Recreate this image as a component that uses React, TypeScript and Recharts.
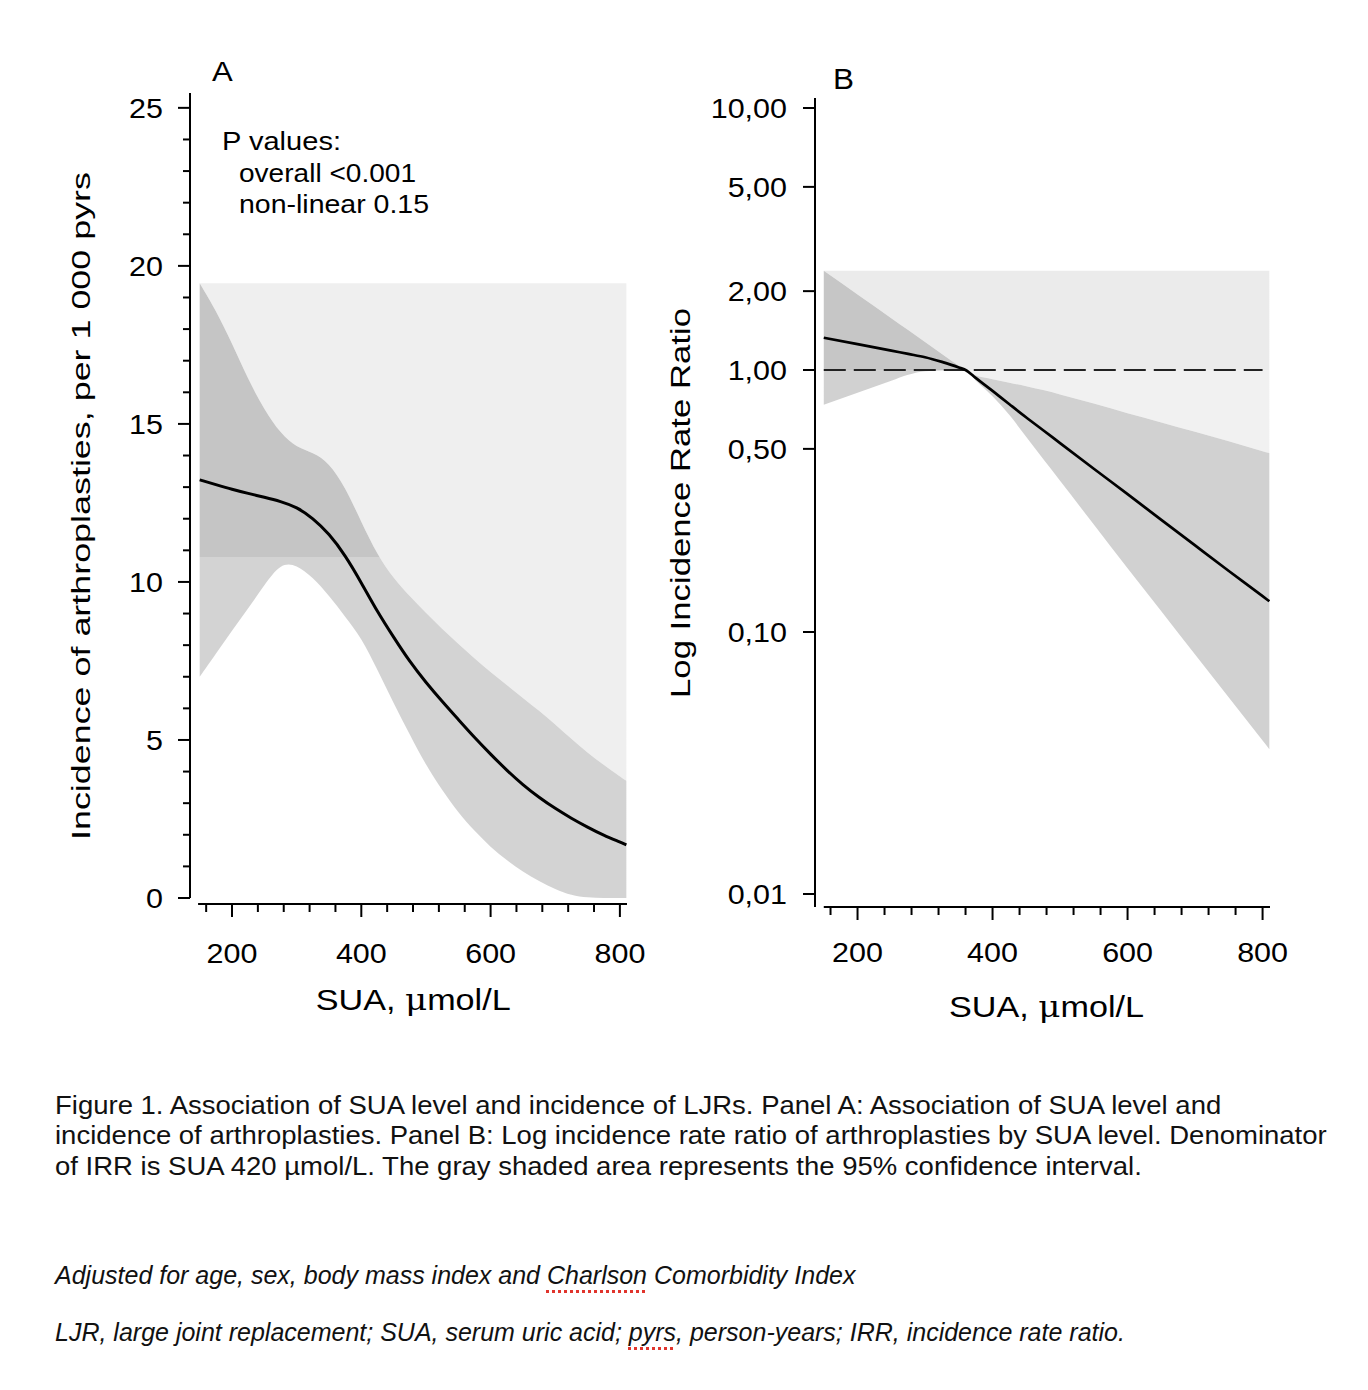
import { ComposedChart, Area, Line, XAxis, YAxis, ReferenceLine } from 'recharts'

const FONT = '"Liberation Sans", Arial, Helvetica, sans-serif'

// Panel A: incidence per 1 000 pyrs by SUA
const suaA = [150, 175, 200, 225, 250, 275, 300, 325, 350, 375, 400, 425, 450, 475, 500, 525, 550, 575, 600, 625, 650, 675, 700, 725, 750, 775, 800, 810]
const rateA = [13.23, 13.08, 12.93, 12.8, 12.68, 12.55, 12.37, 12.02, 11.53, 10.85, 9.98, 9.05, 8.25, 7.47, 6.82, 6.22, 5.65, 5.08, 4.55, 4.04, 3.58, 3.18, 2.83, 2.52, 2.24, 1.98, 1.77, 1.68]
const upperA = [19.45, 18.6, 17.55, 16.4, 15.45, 14.7, 14.25, 14.1, 13.78, 13.0, 11.9, 10.85, 10.11, 9.55, 9.02, 8.51, 8.04, 7.58, 7.15, 6.74, 6.33, 5.93, 5.49, 5.03, 4.6, 4.21, 3.85, 3.71]
const lowerA = [7.0, 7.73, 8.46, 9.16, 9.9, 10.6, 10.55, 10.14, 9.57, 8.9, 8.24, 7.22, 6.16, 5.17, 4.2, 3.41, 2.7, 2.12, 1.61, 1.19, 0.83, 0.53, 0.28, 0.08, 0.01, 0, 0, 0]
const yTicksA = [0, 1, 2, 3, 4, 5, 6, 7, 8, 9, 10, 11, 12, 13, 14, 15, 16, 17, 18, 19, 20, 21, 22, 23, 24, 25]
const splitA = 10.8

// Panel B: incidence rate ratio by SUA
const suaB = [150, 200, 250, 275, 300, 325, 350, 360, 375, 400, 425, 450, 475, 500, 550, 600, 650, 700, 750, 800, 810]
const ratioB = [1.328, 1.256, 1.186, 1.152, 1.119, 1.074, 1.023, 1.0, 0.933, 0.832, 0.74, 0.659, 0.589, 0.526, 0.42, 0.336, 0.268, 0.214, 0.171, 0.137, 0.131]
const upperB = [2.39, 1.943, 1.577, 1.42, 1.279, 1.152, 1.038, 1.0, 0.955, 0.923, 0.895, 0.867, 0.838, 0.807, 0.745, 0.684, 0.631, 0.581, 0.535, 0.49, 0.482]
const lowerB = [0.737, 0.819, 0.91, 0.959, 0.99, 0.995, 0.999, 1.0, 0.912, 0.794, 0.673, 0.555, 0.457, 0.378, 0.257, 0.175, 0.12, 0.082, 0.0562, 0.0385, 0.0357]
const yTicksB = [0.01, 0.1, 0.5, 1, 2, 5, 10]
const refB = 1

const xTicks = [160, 200, 240, 280, 320, 360, 400, 440, 480, 520, 560, 600, 640, 680, 720, 760, 800]
const xMajor = [200, 400, 600, 800]

const X_DOMAIN_A: [number, number] = [135, 811]
const Y_DOMAIN_A: [number, number] = [-0.19, 25.47]
const X_DOMAIN_B: [number, number] = [137, 811]
const Y_DOMAIN_B: [number, number] = [0.00892, 10.92]

const topA = Math.max(...upperA)
const dataA = suaA.map((sua, i) => ({ sua, rate: rateA[i], lo: lowerA[i], hi: upperA[i], top: topA }))
const offBandA = (topA - splitA) / (topA - Math.min(...lowerA))

const topB = Math.max(...upperB)
const dataB = suaB.map((sua, i) => ({ sua, ratio: ratioB[i], lo: lowerB[i], hi: upperB[i], top: topB }))
const lg = Math.log10
const offBandB = (lg(topB) - lg(refB)) / (lg(topB) - lg(Math.min(...lowerB)))
const offLightB = (lg(topB) - lg(refB)) / (lg(topB) - lg(Math.min(...upperB)))

const tickText = (x: number, y: number, anchor: 'middle' | 'end', label: string) => (
  <text
    transform={`translate(${x},${y}) scale(1.13,1)`}
    textAnchor={anchor}
    fontSize={27}
    fontFamily={FONT}
    fill="#000"
  >
    {label}
  </text>
)

const xTick = (labelDy: number) => (props: any) => {
  const { x, y, payload } = props
  const major = xMajor.includes(payload.value)
  return (
    <g>
      <line x1={x} x2={x} y1={y} y2={y + (major ? 13 : 8)} stroke="#000" strokeWidth={2} />
      {major && tickText(x, y + labelDy, 'middle', String(payload.value))}
    </g>
  )
}

const yTickA = (props: any) => {
  const { x, y, payload } = props
  const major = payload.value % 5 === 0
  return (
    <g>
      <line x1={x - (major ? 12 : 7)} x2={x} y1={y} y2={y} stroke="#000" strokeWidth={2} />
      {major && tickText(x - 27, y + 9.7, 'end', String(payload.value))}
    </g>
  )
}

const yTickB = (props: any) => {
  const { x, y, payload } = props
  return (
    <g>
      <line x1={x - 12} x2={x} y1={y} y2={y} stroke="#000" strokeWidth={2} />
      {tickText(x - 28, y + 9.7, 'end', payload.value.toFixed(2).replace('.', ','))}
    </g>
  )
}

const txt = { fontFamily: FONT, fill: '#000' }
const redDots = { textDecoration: 'underline dotted #e0342c', textDecorationThickness: '3px', textUnderlineOffset: '6px' }

export default function App() {
  return (
    <div style={{ position: 'absolute', left: 0, top: 0, width: 1368, height: 1390, background: '#fff' }}>
      <svg width={0} height={0} style={{ position: 'absolute' }}>
        <defs>
          <linearGradient id="bandA" x1="0" y1="0" x2="0" y2="1">
            <stop offset={offBandA} stopColor="#c5c5c5" />
            <stop offset={offBandA} stopColor="#d3d3d3" />
          </linearGradient>
          <linearGradient id="bandB" x1="0" y1="0" x2="0" y2="1">
            <stop offset={offBandB} stopColor="#c6c6c6" />
            <stop offset={offBandB} stopColor="#d1d1d1" />
          </linearGradient>
          <linearGradient id="lightB" x1="0" y1="0" x2="0" y2="1">
            <stop offset={offLightB} stopColor="#ebebeb" />
            <stop offset={offLightB} stopColor="#f1f1f1" />
          </linearGradient>
        </defs>
      </svg>

      <div style={{ position: 'absolute', left: 0, top: 0 }}>
        <ComposedChart width={680} height={1040} data={dataA} margin={{ top: 93, right: 53, bottom: 96, left: 150 }}>
          <XAxis
            dataKey="sua"
            type="number"
            domain={X_DOMAIN_A}
            ticks={xTicks}
            interval={0}
            allowDataOverflow
            axisLine={false}
            tickLine={false}
            tickSize={0}
            tickMargin={0}
            height={40}
            tick={xTick(59)}
          />
          <YAxis
            type="number"
            domain={Y_DOMAIN_A}
            ticks={yTicksA}
            interval={0}
            allowDataOverflow
            axisLine={false}
            tickLine={false}
            tickSize={0}
            tickMargin={0}
            width={40}
            tick={yTickA}
          />
          <Area type="basis" dataKey={(d: any) => [d.hi, d.top]} fill="#efefef" fillOpacity={1} stroke="none" isAnimationActive={false} />
          <Area type="basis" dataKey={(d: any) => [d.lo, d.hi]} fill="url(#bandA)" fillOpacity={1} stroke="none" isAnimationActive={false} />
          <Line type="basis" dataKey="rate" stroke="#000" strokeWidth={3} dot={false} activeDot={false} isAnimationActive={false} />
          <ReferenceLine segment={[{ x: X_DOMAIN_A[0], y: 0 }, { x: X_DOMAIN_A[0], y: Y_DOMAIN_A[1] }]} stroke="#000" strokeWidth={2} ifOverflow="visible" />
          <ReferenceLine segment={[{ x: 147.5, y: Y_DOMAIN_A[0] }, { x: X_DOMAIN_A[1], y: Y_DOMAIN_A[0] }]} stroke="#000" strokeWidth={2} ifOverflow="visible" />
        </ComposedChart>
      </div>

      <div style={{ position: 'absolute', left: 640, top: 0 }}>
        <ComposedChart width={700} height={1040} data={dataB} margin={{ top: 98, right: 70, bottom: 93, left: 135 }}>
          <XAxis
            dataKey="sua"
            type="number"
            domain={X_DOMAIN_B}
            ticks={xTicks}
            interval={0}
            allowDataOverflow
            axisLine={false}
            tickLine={false}
            tickSize={0}
            tickMargin={0}
            height={40}
            tick={xTick(55)}
          />
          <YAxis
            type="number"
            scale="log"
            domain={Y_DOMAIN_B}
            ticks={yTicksB}
            interval={0}
            allowDataOverflow
            axisLine={false}
            tickLine={false}
            tickSize={0}
            tickMargin={0}
            width={40}
            tick={yTickB}
          />
          <Area type="monotone" dataKey={(d: any) => [d.hi, d.top]} fill="url(#lightB)" fillOpacity={1} stroke="none" isAnimationActive={false} />
          <Area type="monotone" dataKey={(d: any) => [d.lo, d.hi]} fill="url(#bandB)" fillOpacity={1} stroke="none" isAnimationActive={false} />
          <ReferenceLine segment={[{ x: 150, y: refB }, { x: 800, y: refB }]} stroke="#222" strokeWidth={2} strokeDasharray="22 8" />
          <Line type="monotone" dataKey="ratio" stroke="#000" strokeWidth={2.7} dot={false} activeDot={false} isAnimationActive={false} />
          <ReferenceLine segment={[{ x: X_DOMAIN_B[0], y: Y_DOMAIN_B[0] }, { x: X_DOMAIN_B[0], y: Y_DOMAIN_B[1] }]} stroke="#000" strokeWidth={2} ifOverflow="visible" />
          <ReferenceLine segment={[{ x: 150, y: Y_DOMAIN_B[0] }, { x: X_DOMAIN_B[1], y: Y_DOMAIN_B[0] }]} stroke="#000" strokeWidth={2} ifOverflow="visible" />
        </ComposedChart>
      </div>

      <svg width={1368} height={1060} style={{ position: 'absolute', left: 0, top: 0, pointerEvents: 'none' }}>
        <text transform="translate(212,81) scale(1.15,1)" fontSize={27} {...txt}>A</text>
        <text transform="translate(833,89) scale(1.05,1)" fontSize={30} {...txt}>B</text>
        <text x={222} y={150} fontSize={25.5} textLength={119} lengthAdjust="spacingAndGlyphs" {...txt}>P values:</text>
        <text x={239} y={182} fontSize={25.5} textLength={177} lengthAdjust="spacingAndGlyphs" {...txt}>overall &lt;0.001</text>
        <text x={239} y={213} fontSize={25.5} textLength={190} lengthAdjust="spacingAndGlyphs" {...txt}>non-linear 0.15</text>
        <text transform="translate(90,506) rotate(-90)" textAnchor="middle" fontSize={25} textLength={668} lengthAdjust="spacingAndGlyphs" {...txt}>
          Incidence of arthroplasties, per 1 000 pyrs
        </text>
        <text transform="translate(690,503) rotate(-90)" textAnchor="middle" fontSize={27} textLength={390} lengthAdjust="spacingAndGlyphs" {...txt}>
          Log Incidence Rate Ratio
        </text>
        <text x={315.7} y={1010} fontSize={30} textLength={195} lengthAdjust="spacingAndGlyphs" {...txt}>
          SUA, <tspan fontFamily="DejaVu Serif">μ</tspan>mol/L
        </text>
        <text x={949} y={1017} fontSize={30} textLength={195} lengthAdjust="spacingAndGlyphs" {...txt}>
          SUA, <tspan fontFamily="DejaVu Serif">μ</tspan>mol/L
        </text>
      </svg>

      <div
        style={{
          position: 'absolute',
          left: 55,
          top: 1089.5,
          fontFamily: FONT,
          fontSize: 26.2,
          lineHeight: '30.5px',
          whiteSpace: 'nowrap',
          color: '#111',
          transform: 'scaleX(1.05)',
          transformOrigin: 'left top',
        }}
      >
        <div>Figure 1. Association of SUA level and incidence of LJRs. Panel A: Association of SUA level and</div>
        <div>incidence of arthroplasties. Panel B: Log incidence rate ratio of arthroplasties by SUA level. Denominator</div>
        <div>of IRR is SUA 420 µmol/L. The gray shaded area represents the 95% confidence interval.</div>
      </div>

      <div style={{ position: 'absolute', left: 55, top: 1260, fontFamily: FONT, fontSize: 25, fontStyle: 'italic', lineHeight: '30.5px', whiteSpace: 'nowrap', color: '#111' }}>
        Adjusted for age, sex, body mass index and <span style={redDots}>Charlson</span> Comorbidity Index
      </div>
      <div style={{ position: 'absolute', left: 55, top: 1317, fontFamily: FONT, fontSize: 25, fontStyle: 'italic', lineHeight: '30.5px', whiteSpace: 'nowrap', color: '#111' }}>
        LJR, large joint replacement; SUA, serum uric acid; <span style={redDots}>pyrs</span>, person-years; IRR, incidence rate ratio.
      </div>
    </div>
  )
}
